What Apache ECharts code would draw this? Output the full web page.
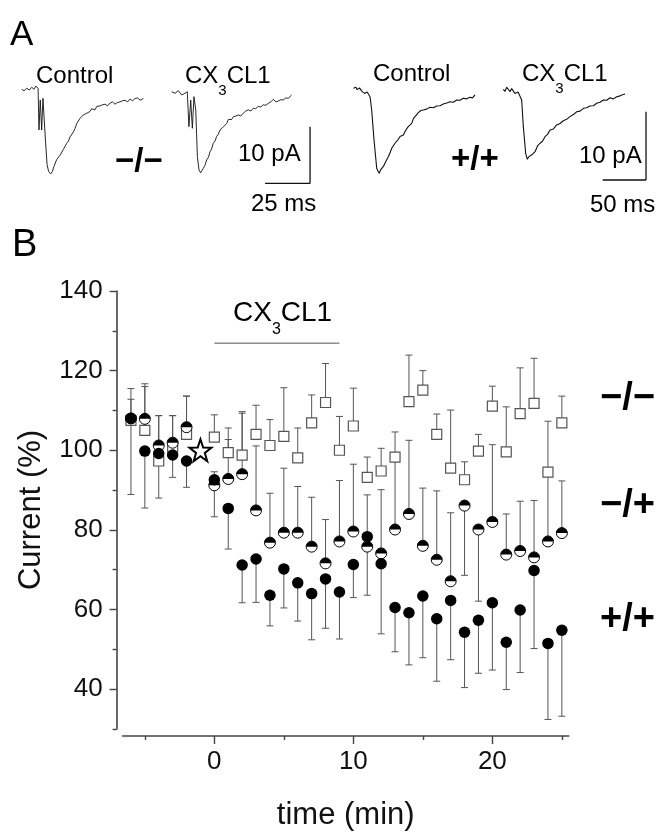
<!DOCTYPE html>
<html>
<head>
<meta charset="utf-8">
<script src="https://cdn.jsdelivr.net/npm/echarts@6/dist/echarts.min.js"></script>
<style>html,body{margin:0;padding:0;background:#fff}#c{width:660px;height:836px}</style>
</head>
<body>
<div id="c"></div>
<script>
// ---------- Panel A: example current traces (ms, pA) ----------
const koControl = [[0,0.12],[1.3,-0.12],[2.8,0.3],[4.2,0],[5.6,0.48],[6.8,0.12],[7.9,0.7],[9.1,0.3],[9.6,-7.05],[10.3,-1.76],[11.1,-7.05],[11.8,-1.46],[12.5,-1.76],[13.3,-9.35],[14.1,-13.2],[15,-14.4],[16.1,-14.8],[17,-14.4],[17.9,-13.5],[19.4,-12.3],[20.3,-12.0],[21.3,-11.5],[22.2,-11.3],[23.1,-10.5],[24.1,-10.2],[25,-9.4],[26,-9.0],[26.8,-8.3],[27.8,-8.1],[28.7,-7.4],[29.6,-6.8],[30.6,-5.9],[31.5,-5.6],[32.4,-5.0],[33.3,-5.1],[34.2,-4.4],[35.1,-4.6],[36.1,-4.1],[37,-4.3],[37.9,-3.8],[38.8,-3.3],[39.8,-3.2],[40.7,-3.5],[41.7,-2.9],[42.6,-3.1],[43.5,-2.8],[44.9,-2.6],[46.3,-2.5],[47.7,-2.8],[49.1,-2.3],[50.5,-2.1],[51.8,-2.5],[53.2,-2.2],[54.6,-2.1],[56,-1.9],[57.4,-1.8],[58.8,-2.1],[60.2,-1.6],[61.6,-1.9],[63,-1.5],[64.4,-1.4],[65.8,-1.8],[67.6,-1.5]];
const koCx3cl1 = [[83.3,-0.3],[85.2,-0.58],[87,-0.12],[88.9,-0.88],[90.7,-0.58],[92,-0.3],[92.9,-6.47],[93.9,-1.76],[94.8,-6.75],[95.7,-1.18],[96.7,-3.53],[97.6,-11.76],[98.5,-14.1],[99.4,-14.6],[100.9,-13.8],[101.8,-13.3],[102.8,-12.3],[103.7,-11.9],[104.6,-10.9],[105.5,-10.4],[106.4,-9.4],[107.4,-9.0],[108.3,-8.2],[109.2,-7.8],[110.2,-7.05],[111.1,-6.9],[112,-6.5],[113,-6.3],[113.9,-5.9],[114.8,-5.2],[115.7,-5.0],[116.6,-5.2],[117.6,-4.7],[119,-4.6],[120.3,-4.4],[121.7,-4.6],[123.1,-4.1],[124.5,-3.7],[125.9,-3.5],[127.3,-3.7],[128.7,-3.2],[130,-3.3],[131.4,-2.9],[132.8,-3.0],[134.2,-2.6],[135.6,-2.7],[137,-2.35],[138.4,-2.1],[139.8,-1.64],[141.2,-2.1],[142.6,-1.94],[144,-1.7],[145.3,-1.76],[146.7,-1.4],[148.1,-1.46],[150,-0.88]];
const wtControl = [[0,0.25],[1.5,0.1],[3.1,0.4],[4.4,0.05],[5.8,-0.1],[7.2,0.3],[8.5,0.1],[10,-0.2],[11.5,-0.25],[13,-0.5],[14.6,-0.73],[16,-0.3],[17.3,-0.4],[19.3,-0.98],[21.2,-2.93],[23.9,-7.32],[27,-11.46],[28.5,-11.9],[30,-12.2],[31.4,-11.7],[32.8,-11.8],[34.7,-11.2],[36.6,-11.0],[38.5,-10.2],[40.4,-9.77],[42.4,-9.2],[44.3,-8.54],[46.2,-8.3],[48.1,-7.8],[50,-7.7],[51.9,-7.22],[53.9,-6.8],[55.8,-6.59],[57.7,-6.6],[59.6,-6.1],[61.5,-5.7],[63.4,-5.37],[65.4,-5.3],[67.4,-4.88],[69.3,-4.2],[71.2,-3.9],[73.1,-3.7],[75,-3.32],[77.9,-3.0],[80.7,-2.93],[84.6,-2.8],[88.5,-2.53],[92.3,-2.6],[96.2,-2.34],[100,-2.3],[103.8,-2.05],[107.7,-1.9],[111.5,-1.71],[115.4,-1.8],[119.3,-1.46],[123.1,-1.5],[126.9,-1.22],[130.8,-1.3],[134.6,-1.07],[137.5,-1.15],[140.4,-0.73]];
const wtCx3cl1 = [[173,0.1],[175,-0.2],[176.9,0.4],[178.8,0.1],[180.7,-0.25],[182.6,0.2],[184.5,0],[186.5,-0.5],[188.5,-0.73],[190,-0.3],[191.5,-0.48],[194.2,-1.46],[196.1,-5.37],[198.8,-9.27],[200.7,-10.15],[202.2,-9.8],[203.8,-9.66],[206.7,-9.4],[209.6,-9.03],[212.5,-8.2],[215.3,-7.8],[218.2,-7.5],[221.1,-6.84],[224,-6.5],[226.9,-5.86],[230.8,-5.7],[234.6,-5.12],[238.4,-4.9],[242.2,-4.5],[246,-4.3],[249.9,-3.9],[253.8,-3.6],[257.7,-3.18],[261.5,-3.1],[265.3,-2.68],[269.1,-2.6],[273,-2.34],[276.9,-2.3],[280.7,-1.95],[284.6,-1.8],[288.4,-1.46],[292.2,-1.5],[296.1,-1.13],[300,-1.3],[303.8,-0.98],[306.7,-0.9],[309.6,-0.73],[313.4,-0.59]];
// scale bars: [x, y] pairs in ms / pA
const koBarV = [[160.2,-6.47],[160.2,-16.47]];
const koBarH = [[135.2,-16.47],[160.2,-16.47]];
const wtBarV = [[337.6,-3.18],[337.6,-13.18]];
const wtBarH = [[287.6,-13.18],[337.6,-13.18]];

// ---------- Panel B: time course ----------
const timeMin = [-6,-5,-4,-3,-2,0,1,2,3,4,5,6,7,8,9,10,11,12,13,14,15,16,17,18,19,20,21,22,23,24,25];
// -/- (open squares)
const koKo = [107.5,105.0,97.3,100.8,104.0,103.3,99.4,98.8,104.0,101.2,103.5,98.1,106.9,112.0,100.0,106.1,93.2,94.8,98.3,112.2,115.1,104.0,95.5,92.6,99.8,111.1,99.6,109.2,111.8,94.5,106.9];
const koKoErr = [115.5,116.7,108.7,108.7,113.6,108.9,105.6,109.7,111.3,107.7,115.7,105.6,113.9,121.8,108.5,115.6,98.3,100.5,104.6,123.9,120.0,109.1,110.1,97.1,104.0,116.1,110.9,120.7,123.1,107.3,113.6];
// -/+ (half-filled circles)
const het = [108.0,107.9,101.2,101.9,105.8,91.2,92.8,94.0,84.9,76.8,79.3,79.3,75.8,71.6,77.1,79.6,75.8,74.1,80.1,84.0,76.0,72.5,67.1,86.1,80.1,82.0,73.8,74.7,73.1,77.1,79.2];
const hetErr = [112.8,116.0,108.7,108.7,113.6,94.6,102.7,109.3,101.1,89.2,95.5,90.9,88.2,82.6,92.4,96.5,88.8,90.1,98.0,102.5,90.5,89.8,84.3,68.6,62.1,101.4,84.0,87.2,87.4,95.0,92.3];
// +/+ (filled circles)
const wt = [108.0,99.8,99.2,98.8,97.3,92.6,85.4,71.2,72.7,63.6,70.2,66.7,64.0,67.7,64.4,71.3,78.3,71.5,60.5,59.2,63.4,57.7,62.3,54.3,57.3,61.7,51.8,59.9,69.8,51.5,54.8];
const wtErr = [88.9,85.5,88.0,93.2,90.7,83.3,75.2,61.7,61.8,55.9,60.4,57.1,52.4,55.3,52.6,63.0,63.6,53.9,49.4,46.1,47.9,42.0,47.4,40.4,44.0,44.8,39.9,44.2,50.2,32.4,33.2];
const starPoint = [[-1, 100]];
const drugBar = [[0, 126.9],[9, 126.9]];
const xMajor = [0,10,20];
const xMinor = [-5,5,15,25];
const yMajor = [40,60,80,100,120,140];
const yMinor = [30,50,70,90,110,130];

const FONT = 'Liberation Sans, Arial, sans-serif';
const zip = (a,b,c) => a.map((t,i)=> c ? [t,b[i],c[i]] : [t,b[i]]);

function errRender(params, api){
  const t = api.value(0), v = api.value(1), e = api.value(2);
  const p1 = api.coord([t,v]), p2 = api.coord([t,e]);
  const st = {stroke:'#555', lineWidth:1};
  return {type:'group', children:[
    {type:'line', shape:{x1:p1[0],y1:p1[1],x2:p2[0],y2:p2[1]}, style:st},
    {type:'line', shape:{x1:p2[0]-3.5,y1:p2[1],x2:p2[0]+3.5,y2:p2[1]}, style:st}
  ]};
}

const STAR = 'path://M10,0 L12.351,6.764 L19.511,6.910 L13.804,11.236 L15.878,18.090 L10,14 L4.122,18.090 L6.196,11.236 L0.489,6.910 L7.649,6.764 Z';
const HALF = 'path://M0,10 A10,10 0 0 1 20,10 Z';

const traceLine = (data, xi, w) => ({type:'line', xAxisIndex:xi, yAxisIndex:xi, data, symbol:'none', silent:true,
  lineStyle:{color:'#111', width:w}, animation:false});

const hiddenAxis = (gi, min, max) => ({gridIndex:gi, type:'value', min, max, show:false});
const subRich = (big, small, lh) => ({a:{fontSize:big, fontFamily:FONT, lineHeight:lh},
  s:{fontSize:small, fontFamily:FONT, verticalAlign:'bottom', lineHeight:10}});

const option = {
  animation:false,
  backgroundColor:'#fff',
  grid:[
    {left:21.7, top:73, width:306, height:113.4},
    {left:353.3, top:69.5, width:294.8, height:116.1},
    {left:122.6, top:291, width:446.2, height:444}
  ],
  xAxis:[
    hiddenAxis(0,0,170),
    hiddenAxis(1,0,340),
    {gridIndex:2, type:'value', position:'bottom', min:-6.6, max:25.5, offset:7,
      axisLine:{onZero:false, lineStyle:{color:'#444', width:1.6}},
      axisTick:{customValues:xMajor, length:8, lineStyle:{color:'#444', width:1.4}},
      axisLabel:{customValues:xMajor, fontSize:26, color:'#111', fontFamily:FONT, margin:13},
      splitLine:{show:false},
      name:'time (min)', nameLocation:'middle', nameGap:64,
      nameTextStyle:{fontSize:31, color:'#111', fontFamily:FONT}},
    {gridIndex:2, type:'value', position:'bottom', min:-6.6, max:25.5, offset:7,
      axisLine:{show:false, onZero:false},
      axisTick:{customValues:xMinor, length:4, lineStyle:{color:'#444', width:1.4}},
      axisLabel:{show:false}, splitLine:{show:false}}
  ],
  yAxis:[
    hiddenAxis(0,-17,3),
    hiddenAxis(1,-14,3),
    {gridIndex:2, type:'value', position:'left', min:30, max:140, offset:6,
      axisLine:{show:true, onZero:false, lineStyle:{color:'#444', width:1.6}},
      axisTick:{show:true, customValues:yMajor, length:7, lineStyle:{color:'#444', width:1.4}},
      axisLabel:{customValues:yMajor, fontSize:26, color:'#111', fontFamily:FONT, margin:14},
      splitLine:{show:false},
      name:'Current (%)', nameLocation:'middle', nameGap:70,
      nameTextStyle:{fontSize:31, color:'#111', fontFamily:FONT}},
    {gridIndex:2, type:'value', position:'left', min:30, max:140, offset:6,
      axisLine:{show:false, onZero:false},
      axisTick:{show:true, customValues:yMinor, length:4, lineStyle:{color:'#444', width:1.4}},
      axisLabel:{show:false}, splitLine:{show:false}}
  ],
  series:[
    traceLine(koControl,0,0.9), traceLine(koCx3cl1,0,0.9),
    traceLine(wtControl,1,1.1), traceLine(wtCx3cl1,1,1.1),
    {type:'line', xAxisIndex:0, yAxisIndex:0, data:koBarV, symbol:'none', lineStyle:{color:'#111', width:1.3}},
    {type:'line', xAxisIndex:0, yAxisIndex:0, data:koBarH, symbol:'none', lineStyle:{color:'#111', width:1.3}},
    {type:'line', xAxisIndex:1, yAxisIndex:1, data:wtBarV, symbol:'none', lineStyle:{color:'#111', width:1.3}},
    {type:'line', xAxisIndex:1, yAxisIndex:1, data:wtBarH, symbol:'none', lineStyle:{color:'#111', width:1.3}},
    // drug application bar
    {type:'line', xAxisIndex:2, yAxisIndex:2, data:drugBar, symbol:'none', lineStyle:{color:'#555', width:1}},
    // error bars
    {type:'custom', xAxisIndex:2, yAxisIndex:2, renderItem:errRender, data:zip(timeMin,koKo,koKoErr), encode:{x:0,y:[1,2]}, z:2},
    {type:'custom', xAxisIndex:2, yAxisIndex:2, renderItem:errRender, data:zip(timeMin,het,hetErr), encode:{x:0,y:[1,2]}, z:2},
    {type:'custom', xAxisIndex:2, yAxisIndex:2, renderItem:errRender, data:zip(timeMin,wt,wtErr), encode:{x:0,y:[1,2]}, z:2},
    // markers
    {type:'scatter', xAxisIndex:2, yAxisIndex:2, data:zip(timeMin,koKo), symbol:'rect', symbolSize:10,
      itemStyle:{color:'#fff', borderColor:'#555', borderWidth:1.2, opacity:1}, z:3},
    {type:'scatter', xAxisIndex:2, yAxisIndex:2, data:zip(timeMin,het), symbol:'circle', symbolSize:11,
      itemStyle:{color:'#fff', borderColor:'#000', borderWidth:1, opacity:1}, z:4},
    {type:'scatter', xAxisIndex:2, yAxisIndex:2, data:zip(timeMin,het), symbol:HALF, symbolSize:[11,5.5], symbolOffset:[0,-2.75],
      itemStyle:{color:'#000', opacity:1}, z:5},
    {type:'scatter', xAxisIndex:2, yAxisIndex:2, data:zip(timeMin,wt), symbol:'circle', symbolSize:11.5,
      itemStyle:{color:'#000', opacity:1}, z:6},
    {type:'scatter', xAxisIndex:2, yAxisIndex:2, data:starPoint, symbol:STAR, symbolSize:22,
      itemStyle:{color:'#fff', borderColor:'#000', borderWidth:2, opacity:1}, z:6}
  ],
  graphic:[
    {type:'text', x:10, y:35, style:{text:'A', fontSize:35, fontFamily:FONT, fill:'#000', verticalAlign:'middle'}},
    {type:'text', x:12, y:246, style:{text:'B', fontSize:38, fontFamily:FONT, fill:'#000', verticalAlign:'middle'}},
    {type:'text', x:36, y:76, style:{text:'Control', fontSize:24, fontFamily:FONT, fill:'#000', verticalAlign:'middle'}},
    {type:'text', x:185, y:76, style:{text:'{a|CX}{s|3}{a|CL1}', fontFamily:FONT, fill:'#000', verticalAlign:'middle', rich:subRich(24,15,44)}},
    {type:'text', x:373, y:74, style:{text:'Control', fontSize:24, fontFamily:FONT, fill:'#000', verticalAlign:'middle'}},
    {type:'text', x:522, y:74, style:{text:'{a|CX}{s|3}{a|CL1}', fontFamily:FONT, fill:'#000', verticalAlign:'middle', rich:subRich(24,15,44)}},
    {type:'text', x:115, y:162, style:{text:'\u2212/\u2212', fontSize:33, fontWeight:'bold', fontFamily:FONT, fill:'#000', verticalAlign:'middle'}},
    {type:'text', x:451, y:160, style:{text:'+/+', fontSize:33, fontWeight:'bold', fontFamily:FONT, fill:'#000', verticalAlign:'middle'}},
    {type:'text', x:238, y:154, style:{text:'10 pA', fontSize:24, fontFamily:FONT, fill:'#000', verticalAlign:'middle'}},
    {type:'text', x:251, y:204, style:{text:'25 ms', fontSize:24, fontFamily:FONT, fill:'#000', verticalAlign:'middle'}},
    {type:'text', x:579, y:156, style:{text:'10 pA', fontSize:24, fontFamily:FONT, fill:'#000', verticalAlign:'middle'}},
    {type:'text', x:590, y:205, style:{text:'50 ms', fontSize:24, fontFamily:FONT, fill:'#000', verticalAlign:'middle'}},
    {type:'text', x:233, y:313, style:{text:'{a|CX}{s|3}{a|CL1}', fontFamily:FONT, fill:'#000', verticalAlign:'middle', rich:subRich(28,16,50)}},
    {type:'text', x:600, y:399, style:{text:'\u2212/\u2212', fontSize:38, fontWeight:'bold', fontFamily:FONT, fill:'#000', verticalAlign:'middle'}},
    {type:'text', x:600, y:506, style:{text:'\u2212/+', fontSize:38, fontWeight:'bold', fontFamily:FONT, fill:'#000', verticalAlign:'middle'}},
    {type:'text', x:600, y:620, style:{text:'+/+', fontSize:38, fontWeight:'bold', fontFamily:FONT, fill:'#000', verticalAlign:'middle'}}
  ]
};
const chart = echarts.init(document.getElementById('c'), null, {renderer:'canvas'});
chart.setOption(option);
</script>
</body>
</html>
